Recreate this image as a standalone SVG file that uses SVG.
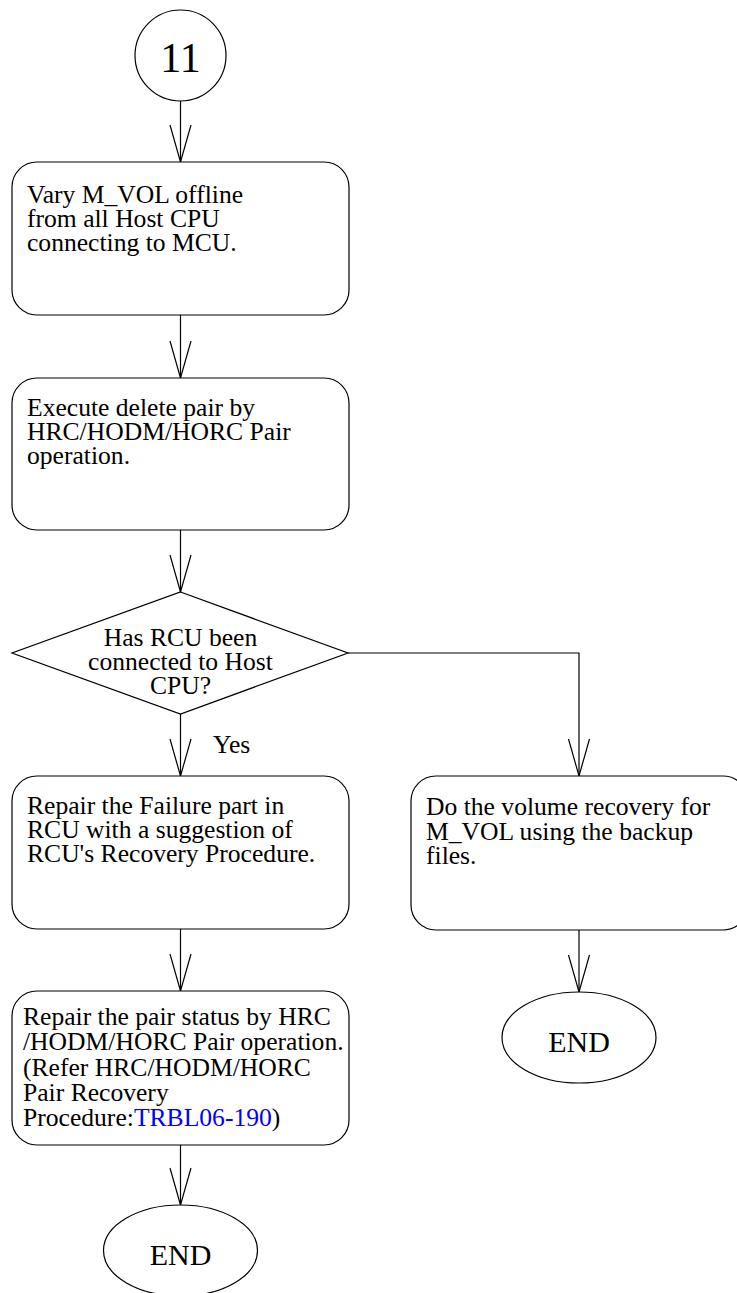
<svg xmlns="http://www.w3.org/2000/svg" width="737" height="1293" viewBox="0 0 737 1293">
<style>
.sh{fill:#fff;stroke:#000;stroke-width:1.2}
.t{font-family:"Liberation Serif","Times New Roman",serif;font-size:25.6px;fill:#000}
.c{text-anchor:middle}
.ln{fill:none;stroke:#000;stroke-width:1.2;marker-end:url(#ah)}
.lk{fill:#0000ff}
</style>
<defs>
<marker id="ah" markerUnits="userSpaceOnUse" markerWidth="40" markerHeight="24" refX="38" refY="12" orient="auto" viewBox="0 0 40 24">
<path d="M1,1.5 L38,12 L1,22.5" fill="none" stroke="#000" stroke-width="1.2"/>
</marker>
</defs>
<g id="connectors">
<path class="ln" d="M180.5,101 V162"/>
<path class="ln" d="M180.5,315 V378"/>
<path class="ln" d="M180.5,530 V592"/>
<path class="ln" d="M180.5,714 V776"/>
<path class="ln" d="M180.5,929 V991"/>
<path class="ln" d="M180.5,1145 V1205"/>
<path class="ln" d="M348,653 H579 V776"/>
<path class="ln" d="M579,930 V992"/>
<text class="t" x="213" y="753">Yes</text>
</g>
<g id="start">
<circle class="sh" cx="180.5" cy="55.5" r="45.5"/>
<text class="t c" x="180.5" y="71.5" style="font-size:42px">11</text>
</g>
<g id="vary">
<rect class="sh" x="12" y="162" width="337" height="153" rx="25" ry="25"/>
<text class="t" x="27" y="203">Vary M_VOL offline</text>
<text class="t" x="27" y="227">from all Host CPU</text>
<text class="t" x="27" y="251">connecting to MCU.</text>
</g>
<g id="delete">
<rect class="sh" x="12" y="378" width="337" height="152" rx="25" ry="25"/>
<text class="t" x="27" y="416">Execute delete pair by</text>
<text class="t" x="27" y="440">HRC/HODM/HORC Pair</text>
<text class="t" x="27" y="464">operation.</text>
</g>
<g id="decision">
<polygon class="sh" points="180.5,592 348,653 180.5,714 12,653"/>
<text class="t c" x="180.5" y="646">Has RCU been</text>
<text class="t c" x="180.5" y="670">connected to Host</text>
<text class="t c" x="180.5" y="694">CPU?</text>
</g>
<g id="repairFailure">
<rect class="sh" x="12" y="776" width="337" height="153" rx="25" ry="25"/>
<text class="t" x="27" y="814">Repair the Failure part in</text>
<text class="t" x="27" y="838">RCU with a suggestion of</text>
<text class="t" x="27" y="862">RCU's Recovery Procedure.</text>
</g>
<g id="repairPair">
<rect class="sh" x="12" y="991" width="337" height="154" rx="25" ry="25"/>
<text class="t" x="23" y="1025">Repair the pair status by HRC</text>
<text class="t" x="23" y="1050">/HODM/HORC Pair operation.</text>
<text class="t" x="23" y="1075.5">(Refer HRC/HODM/HORC</text>
<text class="t" x="23" y="1100.5">Pair Recovery</text>
<text class="t" x="23" y="1126">Procedure:<tspan class="lk">TRBL06-190</tspan>)</text>
</g>
<g id="end1">
<ellipse class="sh" cx="180.5" cy="1250.5" rx="77" ry="45.5"/>
<text class="t c" x="180.5" y="1265" style="font-size:30px">END</text>
</g>
<g id="volumeRecovery">
<rect class="sh" x="411" y="776" width="337" height="154" rx="25" ry="25"/>
<text class="t" x="426" y="815">Do the volume recovery for</text>
<text class="t" x="426" y="840">M_VOL using the backup</text>
<text class="t" x="426" y="864">files.</text>
</g>
<g id="end2">
<ellipse class="sh" cx="579" cy="1037.5" rx="77" ry="45.5"/>
<text class="t c" x="579" y="1052" style="font-size:30px">END</text>
</g>
</svg>
